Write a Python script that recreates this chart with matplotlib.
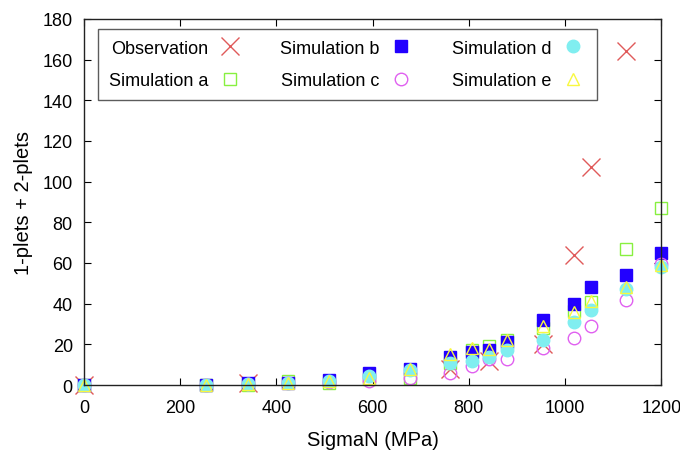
import matplotlib
matplotlib.use("Agg")
import matplotlib.pyplot as plt

plt.rcParams['font.family'] = ['Liberation Sans', 'DejaVu Sans']

# stress levels (MPa)
sigma = [0, 253, 340, 424, 509, 592, 677, 761, 806, 841, 880, 955, 1018, 1054, 1127, 1200]

# observations only at some levels
sigma_obs = [0, 340, 761, 841, 955, 1018, 1054, 1127]
obs = [0, 1, 8, 12, 20, 64, 107, 164]

sim_a = [0, 0, 0, 2, 1, 3, 3.5, 11, 17, 19, 22, 28, 36.5, 41, 67, 87]
sim_b = [0, 0, 1, 1, 2.5, 6, 8, 14, 16, 17, 21, 32, 40, 48, 54, 65]
sim_c = [0, 0, 0.5, 1, 1.5, 2, 3.5, 6, 9.5, 13, 13, 18, 23, 29, 42, 59.5]
sim_d = [0, 0, 0.5, 1, 2, 4.5, 7.5, 11, 12, 14, 17, 22, 31, 37, 47, 58]
sim_e = [0, 0, 0.5, 1, 2, 3.5, 8, 15, 18, 17.5, 22, 29, 36, 41.5, 48, 59]

fig = plt.figure(figsize=(6.8, 4.52), dpi=100)
ax = fig.add_axes([0.1235, 0.146, 0.849, 0.81])

ax.plot(sigma_obs, obs, 'x', color='#e05a5a', ms=13, mew=1.0, label='Observation', clip_on=False)
ax.plot(sigma, sim_a, 's', mfc='none', mec='#88f040', ms=9, mew=1.0, label='Simulation a', clip_on=False)
ax.plot(sigma, sim_b, 's', color='#2200ff', ms=9, label='Simulation b', clip_on=False)
ax.plot(sigma, sim_c, 'o', mfc='none', mec='#e060f0', ms=9, mew=1.0, label='Simulation c', clip_on=False)
ax.plot(sigma, sim_d, 'o', color='#80eef0', ms=9, label='Simulation d', clip_on=False)
ax.plot(sigma, sim_e, '^', mfc='none', mec='#f8f840', ms=9, mew=1.0, label='Simulation e', clip_on=False)

ax.set_xlim(0, 1200)
ax.set_ylim(0, 180)
ax.set_xticks(range(0, 1201, 200))
ax.set_yticks(range(0, 181, 20))
ax.tick_params(direction='in', top=True, right=True, labelsize=13, length=5)
ax.tick_params(axis='x', pad=10)
ax.tick_params(axis='y', pad=8)
for s in ax.spines.values():
    s.set_linewidth(1.0)
    s.set_color('#222222')

ax.set_xlabel('SigmaN (MPa)', fontsize=14.5, labelpad=10)
ax.set_ylabel('1-plets + 2-plets', fontsize=14.5, labelpad=7)

leg = ax.legend(loc='upper left', bbox_to_anchor=(0.024, 0.973), ncol=3, markerfirst=False,
                fontsize=13, frameon=True, fancybox=False, edgecolor='#333333',
                columnspacing=2.1, handletextpad=0.5, borderpad=0.6, labelspacing=0.85,
                handlelength=1.4, borderaxespad=0)
leg.get_frame().set_linewidth(1.0)

fig.savefig('out.png', dpi=100)
